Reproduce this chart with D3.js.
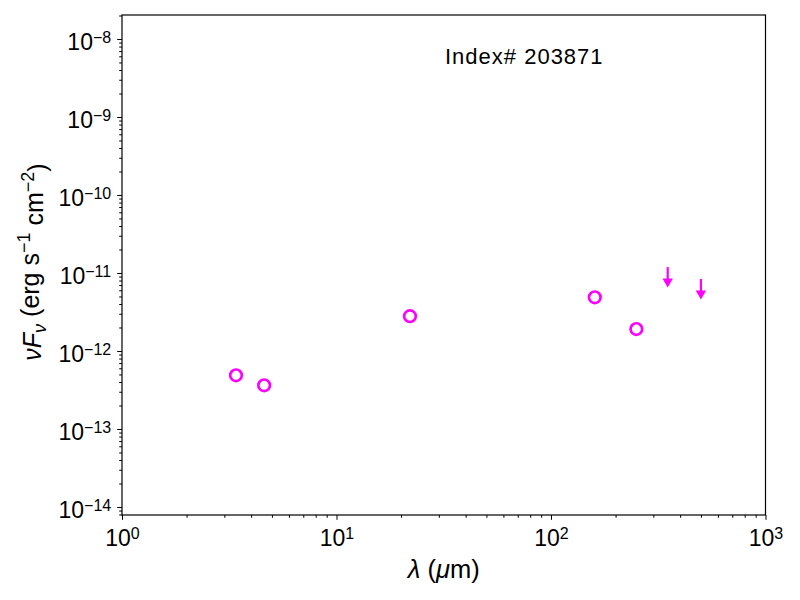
<!DOCTYPE html>
<html>
<head>
<meta charset="utf-8">
<script src="https://cdn.jsdelivr.net/npm/d3@7"></script>
<style>
  body { margin: 0; background: #fff; }
  text { font-family: "Liberation Sans", Arial, sans-serif; }
</style>
</head>
<body>
<svg id="sed" width="800" height="600"></svg>
<script>
// photometry points (wavelength in micron, nuFnu in erg/s/cm2)
const detWave = [3.4, 4.6, 22, 160, 250];
const detFlux = [4.88e-13, 3.63e-13, 2.79e-12, 4.88e-12, 1.91e-12];
// upper limits
const limWave = [350, 500];
const limFlux = [1.19e-11, 8.37e-12];

const xTickExp = [0, 1, 2, 3];
const yTickExp = [-8, -9, -10, -11, -12, -13, -14];
const titleText = "Index# 203871";

const margin = { top: 15, right: 34.5, bottom: 85, left: 122 };
const width = 800 - margin.left - margin.right;
const height = 600 - margin.top - margin.bottom;
const color = "#ff00ff";

const svg = d3.select("#sed")
  .append("g")
  .attr("transform", `translate(${margin.left},${margin.top})`);

const x = d3.scaleLog().domain([1, 1000]).range([0, width]);
const y = d3.scaleLog().domain([7.89e-15, 2.03e-8]).range([height, 0]);

// minor ticks
const xMinor = [];
for (let e = 0; e < 3; e++) for (let m = 2; m < 10; m++) xMinor.push(m * Math.pow(10, e));
const yMinor = [];
for (let e = -15; e < -7; e++) for (let m = 2; m < 10; m++) {
  const v = m * Math.pow(10, e);
  if (v >= y.domain()[0] && v <= y.domain()[1]) yMinor.push(v);
}

svg.append("g")
  .attr("transform", `translate(0,${height})`)
  .call(d3.axisBottom(x).tickValues(xMinor).tickSize(2.8).tickFormat(""))
  .call(g => g.select(".domain").remove());
svg.append("g")
  .call(d3.axisLeft(y).tickValues(yMinor).tickSize(2.8).tickFormat(""))
  .call(g => g.select(".domain").remove());

// major ticks with 10^n labels
function powerLabel(sel) {
  sel.selectAll(".tick text").each(function(d) {
    const t = d3.select(this);
    const e = Math.round(Math.log10(d));
    t.text(null);
    t.append("tspan").text("10");
    t.append("tspan")
      .attr("dy", "-0.45em")
      .style("font-size", "16px")
      .text(e < 0 ? "\u2212" + (-e) : e);
  });
}

svg.append("g")
  .attr("transform", `translate(0,${height})`)
  .call(d3.axisBottom(x).tickValues(xTickExp.map(e => Math.pow(10, e))).tickSize(4.8).tickPadding(4))
  .call(g => g.selectAll(".tick text").style("font-size", "23px").attr("dy", "0.98em"))
  .call(powerLabel);

svg.append("g")
  .call(d3.axisLeft(y).tickValues(yTickExp.map(e => Math.pow(10, e))).tickSize(4.8).tickPadding(6))
  .call(g => g.selectAll(".tick text").style("font-size", "23px").attr("dy", "0.46em"))
  .call(powerLabel);

svg.selectAll(".domain").remove();

// frame
svg.append("rect")
  .attr("width", width)
  .attr("height", height)
  .attr("fill", "none")
  .attr("stroke", "#000")
  .attr("stroke-width", 1.2);

// detections
svg.selectAll(".det")
  .data(detWave.map((w, i) => [w, detFlux[i]]))
  .join("circle")
  .attr("class", "det")
  .attr("cx", d => x(d[0]))
  .attr("cy", d => y(d[1]))
  .attr("r", 5.8)
  .attr("fill", "none")
  .attr("stroke", color)
  .attr("stroke-width", 2.7);

// upper limit arrows
const lim = svg.selectAll(".lim")
  .data(limWave.map((w, i) => [w, limFlux[i]]))
  .join("g")
  .attr("class", "lim")
  .attr("transform", d => `translate(${x(d[0])},${y(d[1])})`);
lim.append("line")
  .attr("y1", 0).attr("y2", 13)
  .attr("stroke", color)
  .attr("stroke-width", 2.2);
lim.append("path")
  .attr("d", "M-5.2,11.5 L5.2,11.5 L0,20.5 Z")
  .attr("fill", color);

// annotation
svg.append("text")
  .attr("x", 323)
  .attr("y", 48.5)
  .style("font-size", "22px")
  .style("letter-spacing", "1px")
  .text(titleText);

// axis labels
const xl = svg.append("text")
  .attr("x", width / 2)
  .attr("y", height + 63)
  .attr("text-anchor", "middle")
  .style("font-size", "25.5px");
xl.append("tspan").style("font-style", "italic").text("\u03bb");
xl.append("tspan").text(" (");
xl.append("tspan").style("font-style", "italic").text("\u03bc");
xl.append("tspan").text("m)");

const yl = svg.append("text")
  .attr("transform", `translate(${-81},${height / 2 - 3}) rotate(-90)`)
  .attr("text-anchor", "middle")
  .style("font-size", "25px");
yl.append("tspan").style("font-style", "italic").text("\u03bdF");
yl.append("tspan").style("font-style", "italic").style("font-size", "18px").attr("dy", "0.25em").text("\u03bd");
yl.append("tspan").attr("dy", "-0.25em").text(" (erg s");
yl.append("tspan").style("font-size", "18px").attr("dy", "-0.5em").text("\u22121");
yl.append("tspan").attr("dy", "0.5em").text(" cm");
yl.append("tspan").style("font-size", "18px").attr("dy", "-0.5em").text("\u22122");
yl.append("tspan").attr("dy", "0.5em").text(")");
</script>
</body>
</html>
